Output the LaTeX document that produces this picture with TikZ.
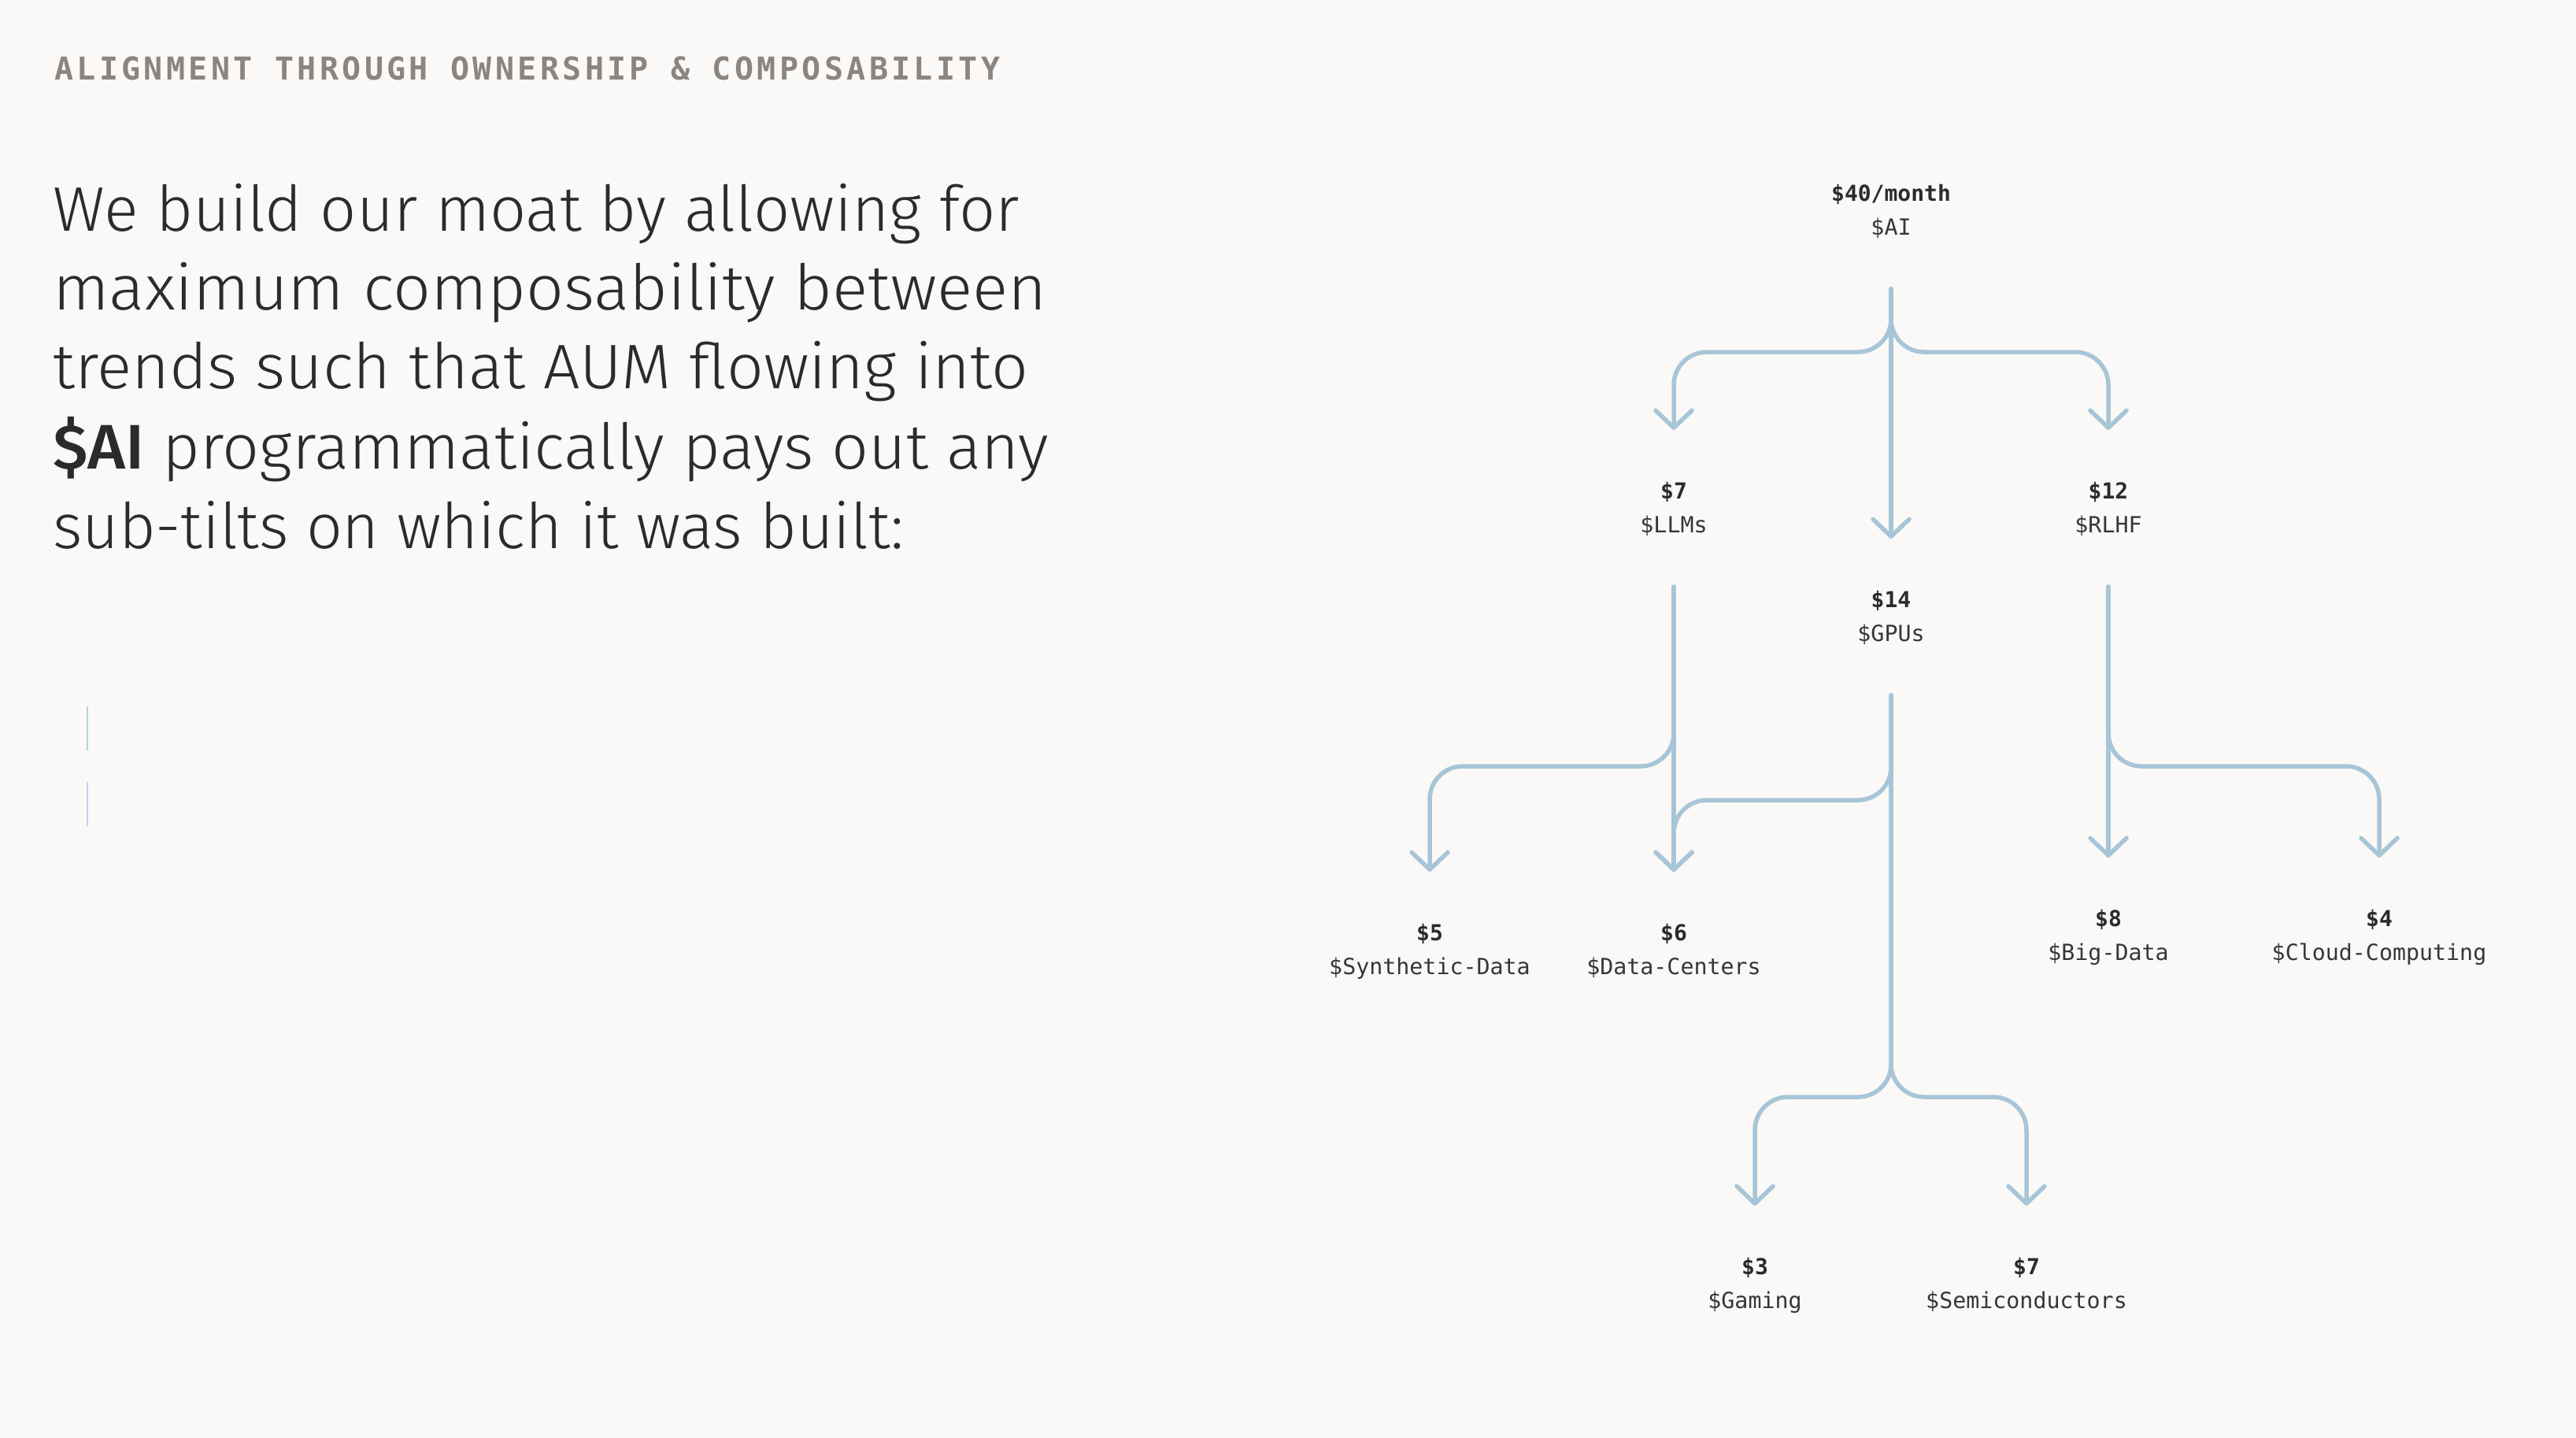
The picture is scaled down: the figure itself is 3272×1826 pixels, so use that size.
\documentclass[tikz,border=0pt]{standalone}
\usepackage{fontspec}
\usetikzlibrary{arrows.meta,calc}
\IfFontExistsTF{Fira Sans Light}{\newfontfamily\bodyfont{Fira Sans Light}}{\newfontfamily\bodyfont{Fira Sans}}
\IfFontExistsTF{Fira Sans Medium}{\newfontfamily\bodyboldfont{Fira Sans Medium}}{\newfontfamily\bodyboldfont{Fira Sans}}
\newfontfamily\monofont{DejaVu Sans Mono}
\newfontfamily\titlefont[LetterSpace=10.9]{DejaVu Sans Mono}
\definecolor{bg}{HTML}{FAF9F7}
\definecolor{ink}{HTML}{2B2B2B}
\definecolor{ink2}{HTML}{363636}
\definecolor{titlec}{HTML}{8A8580}
\definecolor{flowc}{HTML}{A8C5D8}
\definecolor{decoa}{HTML}{B3D6CE}
\definecolor{decob}{HTML}{D3CBEC}
\tikzset{
  amt/.style={anchor=base, inner sep=0pt, text=ink, font=\monofont\bfseries\fontsize{28}{34}\selectfont},
  nm/.style={anchor=base, inner sep=0pt, text=ink2, font=\monofont\fontsize{28.3}{34}\selectfont},
  bodyline/.style={anchor=base west, inner sep=0pt, text=ink, font=\bodyfont\fontsize{80}{100}\selectfont},
  flow/.style={draw=flowc, line width=5.5pt, rounded corners=42pt, line cap=round, line join=round},
  tip/.style={-{Straight Barb[length=22pt,width=46pt,round]}},
}
\begin{document}
\begin{tikzpicture}[x=1pt,y=-1pt]
\useasboundingbox[fill=bg] (0,0) rectangle (3272,1826);
% title
\node[anchor=base west, inner sep=0pt, text=titlec, font=\titlefont\bfseries\fontsize{40}{48}\selectfont] (title) at (69,101) {ALIGNMENT THROUGH OWNERSHIP \& COMPOSABILITY};
% body
\node[bodyline] (b1) at (67,293) {\scalebox{1.014}[1]{We build our moat by allowing for}};
\node[bodyline] (b2) at (67,393) {\scalebox{1.052}[1]{maximum composability between}};
\node[bodyline] (b3) at (67,493) {\scalebox{1.027}[1]{trends such that AUM flowing into}};
\node[bodyline] (b4) at (67,595) {\scalebox{1.03}[1]{{\bodyboldfont \$AI} programmatically pays out any}};
\node[bodyline] (b5) at (67,696) {\scalebox{1.006}[1]{sub-tilts on which it was built:}};
% faint marks
\draw[decoa, line width=1.3pt] (111,897) -- (111,953);
\draw[decob, line width=1.3pt] (111,993) -- (111,1049);
% tree labels
\node[amt] (ai) at (2402,255) {\$40/month};
\node[nm] (aiN) at (2402,298) {\$AI};
\node[amt] (llm) at (2126,633) {\$7};
\node[nm] (llmN) at (2126,676) {\$LLMs};
\node[amt] (rlhf) at (2678,633) {\$12};
\node[nm] (rlhfN) at (2678,676) {\$RLHF};
\node[amt] (gpu) at (2402,771) {\$14};
\node[nm] (gpuN) at (2402,814) {\$GPUs};
\node[amt] (syn) at (1816,1194) {\$5};
\node[nm] (synN) at (1816,1237) {\$Synthetic-Data};
\node[amt] (dc) at (2126,1194) {\$6};
\node[nm] (dcN) at (2126,1237) {\$Data-Centers};
\node[amt] (big) at (2678,1176) {\$8};
\node[nm] (bigN) at (2678,1219) {\$Big-Data};
\node[amt] (cloud) at (3022,1176) {\$4};
\node[nm] (cloudN) at (3022,1219) {\$Cloud-Computing};
\node[amt] (gam) at (2229,1618) {\$3};
\node[nm] (gamN) at (2229,1661) {\$Gaming};
\node[amt] (semi) at (2574,1618) {\$7};
\node[nm] (semiN) at (2574,1661) {\$Semiconductors};
% connector end points
\foreach \n in {ai,llm,rlhf,gpu}{\coordinate (\n Out) at ($(\n N.base)+(0,69)$);}
\foreach \n in {llm,rlhf,gpu,syn,dc,big,cloud,gam,semi}{\coordinate (\n In) at ($(\n.base)+(0,-87)$);}
\coordinate (aiJ) at ($(aiOut)+(0,80)$);
\coordinate (llmJ) at ($(llmOut)+(0,228)$);
\coordinate (rlhfJ) at ($(rlhfOut)+(0,228)$);
\coordinate (gpuJa) at ($(gpuOut)+(0,133)$);
\coordinate (gpuJb) at ($(gpuOut)+(0,510)$);
% connectors
\draw[flow,tip] (aiOut) -- (aiJ) -| (llmIn);
\draw[flow,tip] (aiOut) -- (aiJ) -| (rlhfIn);
\draw[flow,tip] (aiOut) -- (gpuIn);
\draw[flow,tip] (llmOut) -- (llmJ) -| (synIn);
\draw[flow,tip] (llmOut) -- (dcIn);
\draw[flow,tip] (gpuOut) -- (gpuJa) -| (dcIn);
\draw[flow,tip] (rlhfOut) -- (bigIn);
\draw[flow,tip] (rlhfOut) -- (rlhfJ) -| (cloudIn);
\draw[flow,tip] (gpuOut) -- (gpuJb) -| (gamIn);
\draw[flow,tip] (gpuOut) -- (gpuJb) -| (semiIn);
\end{tikzpicture}
\end{document}
